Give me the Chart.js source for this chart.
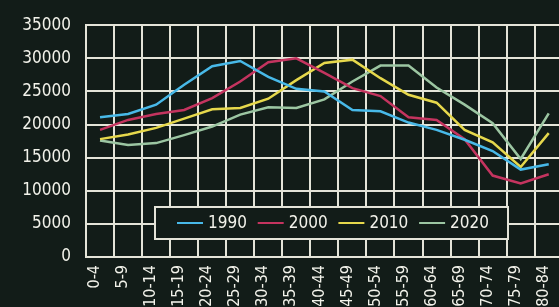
<!DOCTYPE html>
<html>
<head>
<meta charset="utf-8">
<script src="https://cdn.jsdelivr.net/npm/chart.js@4"></script>
<style>
  html, body { margin: 0; padding: 0; background: #121c18; overflow: hidden; }
  #wrap { width: 576px; height: 307px; }
</style>
</head>
<body>
<div id="wrap"><canvas id="chart1" width="576" height="307"></canvas></div>
<script>
const ageGroups = ['0-4', '5-9', '10-14', '15-19', '20-24', '25-29', '30-34', '35-39', '40-44',
  '45-49', '50-54', '55-59', '60-64', '65-69', '70-74', '75-79', '80-84'];

const years = ['1990', '2000', '2010', '2020'];
const pop1990 = [21100, 21600, 23000, 26000, 28800, 29600, 27200, 25400, 25000, 22200, 22000, 20300, 19200, 17700, 16000, 13200, 14000];
const pop2000 = [19200, 20700, 21600, 22200, 24000, 26500, 29400, 30000, 27800, 25500, 24300, 21100, 20700, 17800, 12300, 11100, 12500];
const pop2010 = [17800, 18500, 19500, 20900, 22300, 22500, 23900, 26700, 29300, 29800, 27000, 24500, 23300, 19200, 17300, 13600, 18700];
const pop2020 = [17600, 16900, 17200, 18400, 19700, 21500, 22600, 22500, 23800, 26500, 28900, 28900, 25600, 23000, 20200, 14800, 21700];

const colors = ['#48b9e8', '#c4345f', '#e6d84c', '#9cc6a2'];
const fontFamily = "'Liberation Sans Narrow', 'DejaVu Sans Condensed', 'Arial Narrow', sans-serif";
const white = '#f2f2ea';
const gridColor = '#e4e4d8';

const data = {
  labels: ageGroups,
  datasets: [pop1990, pop2000, pop2010, pop2020].map((vals, i) => ({
    label: years[i],
    data: vals,
    borderColor: colors[i],
    backgroundColor: colors[i],
    borderWidth: 2.5,
    pointRadius: 0,
    tension: 0,
    fill: false
  }))
};

// legend box drawn inside the plot, like the printed chart
const innerLegend = {
  id: 'innerLegend',
  afterDatasetsDraw(chart) {
    const ctx = chart.ctx;
    const left = 155, top = 207, w = 353, h = 32;
    ctx.save();
    ctx.fillStyle = '#121c18';
    ctx.fillRect(left, top, w, h);
    ctx.strokeStyle = gridColor;
    ctx.lineWidth = 2;
    ctx.strokeRect(left, top, w, h);
    ctx.font = '17px ' + fontFamily;
    ctx.textBaseline = 'middle';
    ctx.fillStyle = white;
    chart.data.datasets.forEach((ds, i) => {
      const x = 177 + i * 80.7;
      const y = top + h / 2;
      ctx.strokeStyle = ds.borderColor;
      ctx.lineWidth = 2;
      ctx.beginPath();
      ctx.moveTo(x, y);
      ctx.lineTo(x + 26, y);
      ctx.stroke();
      ctx.fillText(ds.label, x + 31, y + 1);
    });
    ctx.restore();
  }
};

const config = {
  type: 'line',
  data: data,
  options: {
    responsive: false,
    animation: false,
    layout: { padding: { top: 23, right: 2, left: 0, bottom: 0 } },
    plugins: {
      legend: { display: false },
      tooltip: { enabled: false }
    },
    scales: {
      x: {
        offset: true,
        grid: { color: gridColor, lineWidth: 2, drawTicks: false, offset: true },
        border: { color: gridColor, width: 2 },
        ticks: {
          color: white,
          font: { family: fontFamily, size: 16 },
          minRotation: 90,
          maxRotation: 90,
          autoSkip: false,
          padding: 8,
          labelOffset: -5
        },
        afterFit(scale) { scale.height = 50; }
      },
      y: {
        min: 0,
        max: 35000,
        grid: { color: gridColor, lineWidth: 2, drawTicks: false },
        border: { color: gridColor, width: 2 },
        ticks: {
          stepSize: 5000,
          color: white,
          font: { family: fontFamily, size: 17 },
          padding: 15,
          callback: (v) => String(v)
        },
        afterFit(scale) { scale.width = 86; }
      }
    }
  },
  plugins: [innerLegend]
};

var chart = new Chart(document.getElementById('chart1').getContext('2d'), config);
</script>
</body>
</html>
